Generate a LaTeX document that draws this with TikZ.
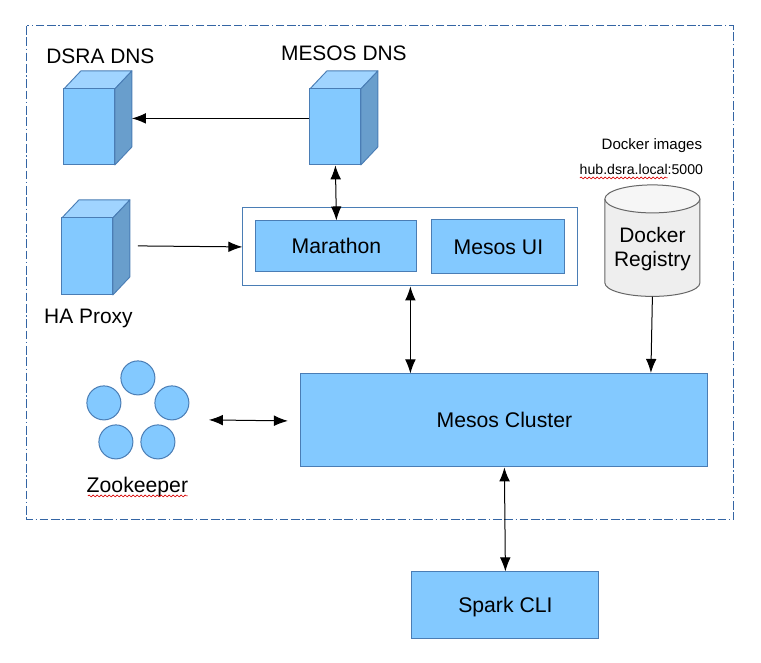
\documentclass[tikz,border=0pt]{standalone}
\usepackage{fontspec}
\setmainfont{Liberation Sans}
\usetikzlibrary{arrows.meta,decorations.pathmorphing}
\definecolor{boxfill}{HTML}{83C9FF}
\definecolor{boxtop}{HTML}{A0D4FF}
\definecolor{boxside}{HTML}{699ECC}
\definecolor{boxline}{HTML}{4A7DB5}
\definecolor{cylfill}{HTML}{EEEEEE}
\definecolor{cyltop}{HTML}{F6F6F6}
\definecolor{cylline}{HTML}{666666}
\definecolor{frameline}{HTML}{3465A4}
\tikzset{
  pxbox/.style n args={2}{draw=boxline,fill=boxfill,line width=0.7pt,inner sep=0pt,
    minimum width=(#1)*0.75pt,minimum height=(#2)*0.75pt,font=\fontsize{15.9pt}{18pt}\selectfont,
    text height=11.3pt,text depth=0pt},
  cubeface/.style={draw=boxline,line width=0.7pt,line join=round},
  conn/.style={-{Latex[length=10.5pt,width=8pt]},line width=0.75pt,black},
  biconn/.style={{Latex[length=10.5pt,width=8pt]}-{Latex[length=10.5pt,width=8pt]},line width=0.75pt,black},
  biglabel/.style={font=\fontsize{15.7pt}{18pt}\selectfont,inner sep=0pt},
  smalllabel/.style={font=\fontsize{11.3pt}{13pt}\selectfont,inner sep=0pt},
  zknode/.style={circle,draw=boxline,fill=boxfill,line width=0.75pt,inner sep=0pt,minimum size=25.5pt},
  squiggle/.style={draw=red!85!black,line width=0.5pt,decorate,decoration={snake,amplitude=0.7pt,segment length=3pt}}
}
\newcommand{\cube}[5]{% name, x1, y1, x2, y2 of the front face
  \draw[cubeface,fill=boxtop] (#2,#3) -- (#2+17,#3-18) -- (#4+17,#3-18) -- (#4,#3) -- cycle;
  \draw[cubeface,fill=boxside] (#4,#3) -- (#4+17,#3-18) -- (#4+17,#5-18) -- (#4,#5) -- cycle;
  \node[pxbox={#4-#2}{#5-#3}] (#1) at ({(#2+#4)/2},{(#3+#5)/2}) {};
}
\begin{document}
\begin{tikzpicture}[x=0.75pt,y=-0.75pt]
\useasboundingbox (0.1,0.1) rectangle (761.1,662.1);
\fill[white] (0.1,0.1) rectangle (761.1,662.1);
\draw[frameline,line width=0.75pt,dash pattern=on 6.5pt off 2pt on 6.5pt off 2pt on 1pt off 2pt] (27,26) rectangle (734,520);

\cube{dsra}{64}{89}{115}{165}
\cube{mesosdns}{310}{89}{361}{165}
\cube{haproxy}{62}{218}{113}{295}
\coordinate (dsraarrow) at (132,118.5);
\node[biglabel] (dsralabel) at (100.5,56) {DSRA DNS};
\node[biglabel] (mesoslabel) at (344,53) {MESOS DNS};
\node[biglabel] (halabel) at (88.5,319) {HA Proxy};

\node[draw=boxline,fill=white,line width=0.75pt,inner sep=0pt,minimum width=335*0.75pt,minimum height=78*0.75pt] (outer) at (410.5,247) {};
\node[pxbox={161}{51}] (marathon) at (336.5,246.5) {Marathon};
\node[pxbox={133}{54}] (mesosui) at (498.5,247) {Mesos UI};
\node[pxbox={407}{93}] (cluster) at (504.5,420.5) {Mesos Cluster};
\node[pxbox={187}{67}] (spark) at (505.5,605.5) {Spark CLI};

\draw[cylline,fill=cylfill,line width=0.75pt] (605,199) -- (605,283) arc[start angle=180,end angle=0,x radius=47.5,y radius=13.5] -- (700,199);
\draw[cylline,fill=cyltop,line width=0.75pt] (652.5,199) ellipse[x radius=47.5,y radius=14];
\node[inner sep=0pt,minimum width=95*0.75pt,minimum height=111*0.75pt] (docker) at (652.5,241) {};
\node[biglabel,align=center] (dockertext) at (652.5,249) {Docker\\Registry};

\node[smalllabel] (imageslabel) at (652,146) {Docker images};
\node[smalllabel,font=\fontsize{10.6pt}{13pt}\selectfont] (hublabel) at (641.5,170) {hub.dsra.local:5000};
\draw[squiggle] (580,178) -- (668,178);

\node[zknode] (zka) at (138,378) {};
\node[zknode] (zkb) at (104,403) {};
\node[zknode] (zkc) at (172,403) {};
\node[zknode] (zkd) at (116,442) {};
\node[zknode] (zke) at (158,442) {};
\node[biglabel,font=\fontsize{15.9pt}{18pt}\selectfont] (zklabel) at (137.5,487) {Zookeeper};
\draw[squiggle] (88,496) -- (188,496);

\coordinate (zkarrow) at (209,420);
\coordinate (clusterwest) at (288,421);
\coordinate (haarrow) at (138,246);
\coordinate (dockerarrow) at (651,373);

\draw[conn] (mesosdns.west |- dsraarrow) -- (dsraarrow);
\draw[biconn] (mesosdns.south) -- (marathon.north);
\draw[conn] (haarrow) -- (outer.west);
\draw[biconn] (outer.south) -- (outer.south |- cluster.north);
\draw[conn] (docker.south) -- (dockerarrow);
\draw[biconn] (zkarrow) -- (clusterwest);
\draw[biconn] (cluster.south) -- (spark.north);
\end{tikzpicture}
\end{document}
